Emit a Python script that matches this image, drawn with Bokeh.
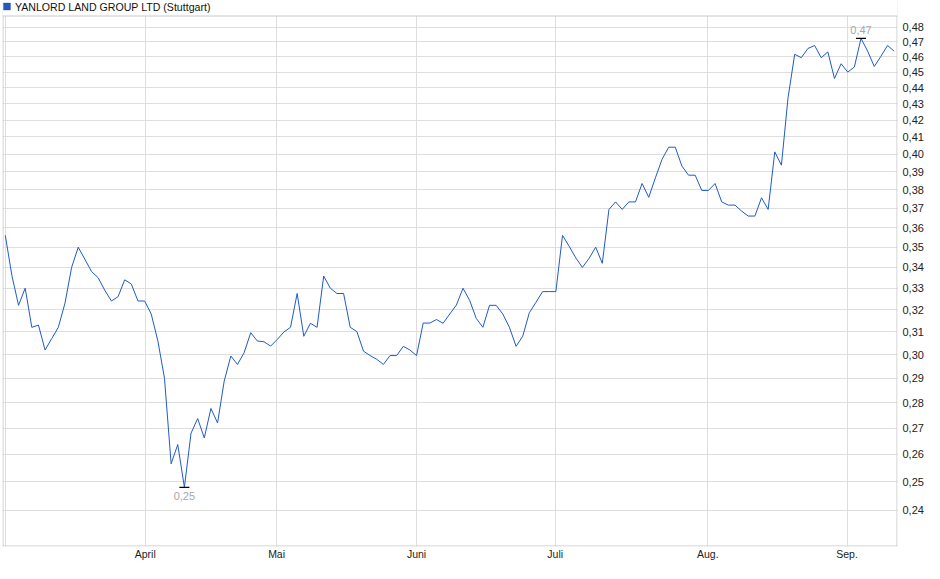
import math
import numpy as np
from bokeh.plotting import figure
from bokeh.models import Range1d, FixedTicker, CustomJSTickFormatter, Label, Span, BoxAnnotation
from bokeh.embed import file_html
from bokeh.resources import INLINE

title_text = "YANLORD LAND GROUP LTD (Stuttgart)"

# closing prices, one per trading day (EUR)
prices = [
    0.356, 0.336, 0.322, 0.330, 0.312, 0.313, 0.302, 0.307, 0.312, 0.323,
    0.340, 0.350, 0.344, 0.338, 0.335, 0.329, 0.324, 0.326, 0.334, 0.332,
    0.324, 0.324, 0.318, 0.306, 0.290, 0.2565, 0.2637, 0.248, 0.268, 0.2737,
    0.2662, 0.2777, 0.272, 0.2888, 0.2994, 0.2958, 0.3008, 0.3096, 0.3059, 0.3056,
    0.3037, 0.3066, 0.3099, 0.312, 0.3275, 0.308, 0.3138, 0.312, 0.3358, 0.330,
    0.3275, 0.3275, 0.312, 0.3101, 0.3015, 0.2996, 0.298, 0.2958, 0.2996, 0.2996,
    0.3036, 0.302, 0.2996, 0.3139, 0.3139, 0.3155, 0.3138, 0.318, 0.3221, 0.330,
    0.3243, 0.316, 0.312, 0.322, 0.322, 0.318, 0.312, 0.3036, 0.308, 0.3186,
    0.3234, 0.3284, 0.3284, 0.3284, 0.356, 0.3505, 0.3447, 0.340, 0.3444, 0.350,
    0.342, 0.3695, 0.3735, 0.3695, 0.3735, 0.3735, 0.3835, 0.376, 0.3866, 0.397,
    0.404, 0.404, 0.3932, 0.3881, 0.3881, 0.3797, 0.3797, 0.3835, 0.3735, 0.3718,
    0.3718, 0.3686, 0.366, 0.366, 0.3757, 0.3695, 0.4013, 0.3937, 0.4337, 0.4616,
    0.4594, 0.4655, 0.4675, 0.4594, 0.4632, 0.4459, 0.4554, 0.450, 0.4533, 0.4723,
    0.4637, 0.4536, 0.4603, 0.4675, 0.4637,
]
days = list(range(len(prices)))

# month starts, in trading-day index
month_labels = ["April", "Mai", "Juni", "Juli", "Aug.", "Sep."]
month_pos = [21.1, 40.9, 62.0, 82.9, 105.9, 126.9]

y_ticks = [0.24, 0.25, 0.26, 0.27, 0.28, 0.29, 0.30, 0.31, 0.32, 0.33, 0.34,
           0.35, 0.36, 0.37, 0.38, 0.39, 0.40, 0.41, 0.42, 0.43, 0.44, 0.45,
           0.46, 0.47, 0.48]

FONT = "Liberation Sans"
GRID = "#dedede"
BORDER = "#c8c8c8"

# layout geometry (pixels)
W, H = 926, 563
LEFT = 2
FRAME_W = 897
BOTTOM = 17
FRAME_H = H - BOTTOM
PX_PER_LN = 696.9
x_lo, x_hi = -0.42, 134.5
y_lo = 0.2278
y_hi = y_lo * math.exp(FRAME_H / PX_PER_LN)

def xd(px):  # pixels from frame left -> data x
    return x_lo + px * (x_hi - x_lo) / FRAME_W

def yd(py):  # pixels from frame top -> data y (log)
    return y_hi * math.exp(-py / PX_PER_LN)

TOP_PAD = 15.5  # header strip above the chart box

p = figure(width=W, height=H, output_backend="svg", toolbar_location=None,
           y_axis_type="log", y_axis_location="right",
           x_range=Range1d(x_lo, x_hi), y_range=Range1d(y_lo, y_hi),
           min_border_left=LEFT, min_border_right=W - FRAME_W - LEFT, min_border_top=0,
           min_border_bottom=BOTTOM)
p.background_fill_color = "white"
p.border_fill_color = "white"
p.outline_line_color = None

# axes
p.yaxis.ticker = FixedTicker(ticks=y_ticks, minor_ticks=[])
p.yaxis.formatter = CustomJSTickFormatter(code="return tick.toFixed(2).replace('.', ',');")
p.yaxis.axis_line_color = None
p.yaxis.major_tick_line_color = None
p.yaxis.minor_tick_line_color = None
p.yaxis.major_tick_out = 0
p.yaxis.major_tick_in = 0
p.yaxis.major_label_standoff = 5
p.yaxis.major_label_text_font = FONT
p.yaxis.major_label_text_font_size = "11px"
p.yaxis.major_label_text_color = "#222222"

xt = [0] + month_pos
p.xaxis.ticker = FixedTicker(ticks=xt, minor_ticks=[])
p.xaxis.formatter = CustomJSTickFormatter(
    args=dict(pos=month_pos, lab=month_labels),
    code="const i = pos.indexOf(tick); return i >= 0 ? lab[i] : '';")
p.xaxis.axis_line_color = None
p.xaxis.major_tick_line_color = None
p.xaxis.minor_tick_line_color = None
p.xaxis.major_tick_out = 0
p.xaxis.major_tick_in = 0
p.xaxis.major_label_standoff = 1
p.xaxis.major_label_text_font = FONT
p.xaxis.major_label_text_font_size = "10.5px"
p.xaxis.major_label_text_color = "#222222"

p.xgrid.grid_line_color = GRID
p.ygrid.grid_line_color = GRID

# chart box borders
p.add_layout(Span(location=xd(0.5), dimension="height", line_color=BORDER, line_width=1))
p.add_layout(Span(location=xd(FRAME_W - 0.5), dimension="height", line_color=BORDER, line_width=1))
p.add_layout(Span(location=yd(FRAME_H - 0.5), dimension="width", line_color=BORDER, line_width=1))

# price line
p.line(days, prices, line_color="#1f5bc6", line_width=1)

# min / max markers
imin = int(np.argmin(prices))
imax = int(np.argmax(prices))
p.scatter([imin, imax], [prices[imin], prices[imax]], marker="dash", size=10,
          line_color="black", line_width=1.2)

def fmt(v):
    return f"{v:.2f}".replace(".", ",")

p.add_layout(Label(x=imin, y=prices[imin], text=fmt(prices[imin]), text_align="center",
                   text_baseline="top", y_offset=-5, text_font=FONT,
                   text_font_size="11px", text_color="#a8a8a8"))
p.add_layout(Label(x=imax, y=prices[imax], text=fmt(prices[imax]), text_align="center",
                   text_baseline="bottom", y_offset=4, text_font=FONT,
                   text_font_size="11px", text_color="#a8a8a8"))

# header strip: white mask above the chart box, then its top border
p.add_layout(BoxAnnotation(bottom=yd(TOP_PAD), fill_color="white", fill_alpha=1.0,
                           line_color=None))
p.add_layout(Span(location=yd(TOP_PAD), dimension="width", line_color=BORDER, line_width=1))

# header marker square and title
p.add_layout(BoxAnnotation(left=xd(1), right=xd(8), top=yd(2.5), bottom=yd(9.5),
                           fill_color="#2358c0", fill_alpha=1.0,
                           line_color="#1b3a80", line_width=1))
p.add_layout(Label(x=xd(12.5), y=yd(6.5), text=title_text,
                   text_align="left", text_baseline="middle",
                   text_font=FONT, text_font_size="10.6px",
                   text_color="#111111"))

open("out.html", "w").write(file_html(p, INLINE))
